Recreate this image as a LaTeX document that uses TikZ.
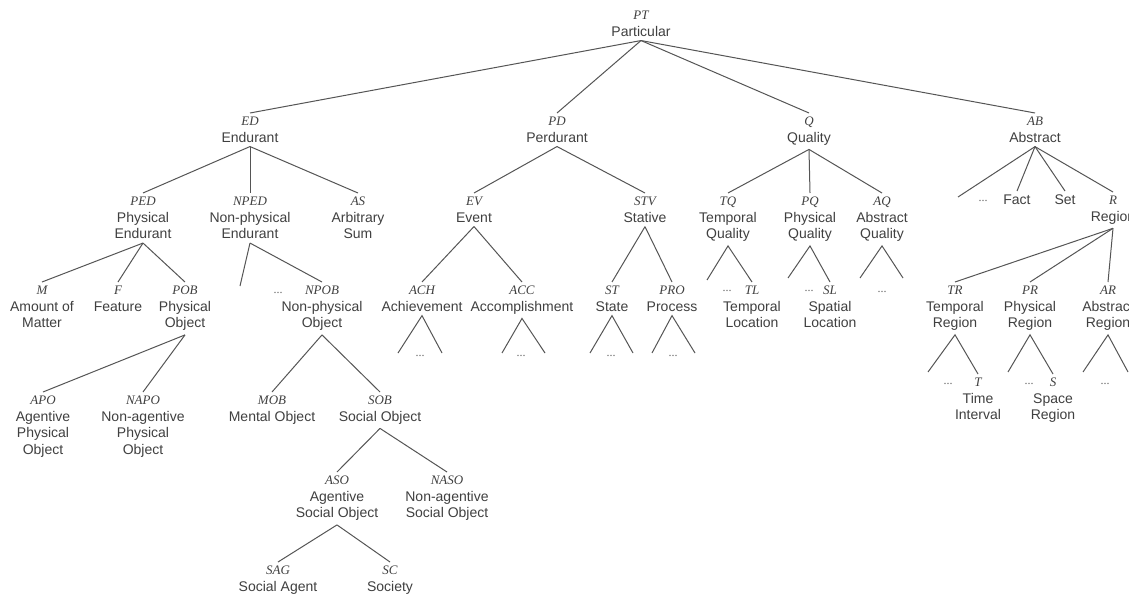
\documentclass[tikz,border=0pt]{standalone}
\usepackage{fontspec}
\setmainfont{Liberation Sans}
\newfontfamily\abbrfont{Liberation Serif}
\usepackage{tikz}
\definecolor{ink}{HTML}{404040}
\definecolor{wire}{HTML}{555555}
\newcommand{\ab}[1]{{\abbrfont\itshape\fontsize{13}{16}\selectfont #1}}
\tikzset{
  cat/.style={anchor=north, align=center, inner xsep=1pt, inner ysep=4pt, text=ink, font=\fontsize{14}{16.5}\selectfont},
  ellip/.style={text=ink!80, font=\abbrfont\fontsize{12}{14}\selectfont, inner sep=1pt},
  branch/.style={draw=wire, line width=1pt},
}

\begin{document}
\begin{tikzpicture}[x=1pt, y=-1pt]
\fill[white] (0,0) rectangle (1129,594);
\useasboundingbox (0,0) rectangle (1129,594);

\node[cat] (PT) at (641,7) {\ab{PT}\\Particular};

\node[cat] (ED) at (250,113) {\ab{ED}\\Endurant};
\node[cat] (PD) at (557,113) {\ab{PD}\\Perdurant};
\node[cat] (Q) at (809,113) {\ab{Q}\\Quality};
\node[cat] (AB) at (1035,113) {\ab{AB}\\Abstract};

\node[cat] (PED) at (143,193) {\ab{PED}\\Physical\\Endurant};
\node[cat] (NPED) at (250,193) {\ab{NPED}\\Non-physical\\Endurant};
\node[cat] (AS) at (358,193) {\ab{AS}\\Arbitrary\\Sum};
\node[cat] (EV) at (474,193) {\ab{EV}\\Event};
\node[cat] (STV) at (645,193) {\ab{STV}\\Stative};
\node[cat] (TQ) at (728,193) {\ab{TQ}\\Temporal\\Quality};
\node[cat] (PQ) at (810,193) {\ab{PQ}\\Physical\\Quality};
\node[cat] (AQ) at (882,193) {\ab{AQ}\\Abstract\\Quality};
\node[ellip] (abD) at (983,201) {...};
\node[cat] (Fact) at (1017,191) {Fact};
\node[cat] (Set) at (1065,191) {Set};
\node[cat] (R) at (1113,192) {\ab{R}\\Region};

\node[cat] (M) at (42,282) {\ab{M}\\Amount of\\Matter};
\node[cat] (F) at (118,282) {\ab{F}\\Feature};
\node[cat] (POB) at (185,282) {\ab{POB}\\Physical\\Object};
\node[ellip] (npedD) at (278,293) {...};
\node[cat] (NPOB) at (322,282) {\ab{NPOB}\\Non-physical\\Object};
\node[cat] (ACH) at (422,282) {\ab{ACH}\\Achievement};
\node[cat] (ACC) at (522,282) {\ab{ACC}\\Accomplishment};
\node[cat] (ST) at (612,282) {\ab{ST}\\State};
\node[cat] (PRO) at (672,282) {\ab{PRO}\\Process};
\node[ellip] (tqD) at (727,291) {...};
\node[cat] (TL) at (752,282) {\ab{TL}\\Temporal\\Location};
\node[ellip] (pqD) at (809,291) {...};
\node[cat] (SL) at (830,282) {\ab{SL}\\Spatial\\Location};
\node[ellip] (aqD) at (882,292) {...};
\node[cat] (TR) at (955,282) {\ab{TR}\\Temporal\\Region};
\node[cat] (PR) at (1030,282) {\ab{PR}\\Physical\\Region};
\node[cat] (AR) at (1108,282) {\ab{AR}\\Abstract\\Region};

\node[ellip] (achD) at (420,356) {...};
\node[ellip] (accD) at (521,356) {...};
\node[ellip] (stD) at (611,356) {...};
\node[ellip] (proD) at (673,356) {...};

\node[cat] (APO) at (43,392) {\ab{APO}\\Agentive\\Physical\\Object};
\node[cat] (NAPO) at (143,392) {\ab{NAPO}\\Non-agentive\\Physical\\Object};
\node[cat] (MOB) at (272,392) {\ab{MOB}\\Mental Object};
\node[cat] (SOB) at (380,392) {\ab{SOB}\\Social Object};
\node[ellip] (trD) at (948,384) {...};
\node[cat] (T) at (978,374) {\ab{T}\\Time\\Interval};
\node[ellip] (prD) at (1029,384) {...};
\node[cat] (S) at (1053,374) {\ab{S}\\Space\\Region};
\node[ellip] (arD) at (1105,384) {...};

\node[cat] (ASO) at (337,472) {\ab{ASO}\\Agentive\\Social Object};
\node[cat] (NASO) at (447,472) {\ab{NASO}\\Non-agentive\\Social Object};

\node[cat] (SAG) at (278,562) {\ab{SAG}\\Social Agent};
\node[cat] (SC) at (390,562) {\ab{SC}\\Society};

\coordinate (abL) at (958,197);
\coordinate (npedL) at (240,286);
\coordinate (tqL) at (707,280);
\coordinate (pqL) at (788,278);
\coordinate (aqL) at (860,278);
\coordinate (aqR) at (903,278);
\coordinate (achL) at (398,353);
\coordinate (achR) at (442,353);
\coordinate (accL) at (502,353);
\coordinate (accR) at (545,353);
\coordinate (stL) at (590,353);
\coordinate (stR) at (633,353);
\coordinate (proL) at (652,353);
\coordinate (proR) at (695,353);
\coordinate (trL) at (928,372);
\coordinate (prL) at (1008,372);
\coordinate (arL) at (1083,372);
\coordinate (arR) at (1128,372);

\draw[branch] (PT.south) -- (ED.north);
\draw[branch] (PT.south) -- (PD.north);
\draw[branch] (PT.south) -- (Q.north);
\draw[branch] (PT.south) -- (AB.north);

\draw[branch] (ED.south) -- (PED.north);
\draw[branch] (ED.south) -- (NPED.north);
\draw[branch] (ED.south) -- (AS.north);
\draw[branch] (PED.south) -- (M.north);
\draw[branch] (PED.south) -- (F.north);
\draw[branch] (PED.south) -- (POB.north);
\draw[branch] (NPED.south) -- (npedL);
\draw[branch] (NPED.south) -- (NPOB.north);
\draw[branch] (POB.south) -- (APO.north);
\draw[branch] (POB.south) -- (NAPO.north);
\draw[branch] (NPOB.south) -- (MOB.north);
\draw[branch] (NPOB.south) -- (SOB.north);
\draw[branch] (SOB.south) -- (ASO.north);
\draw[branch] (SOB.south) -- (NASO.north);
\draw[branch] (ASO.south) -- (SAG.north);
\draw[branch] (ASO.south) -- (SC.north);

\draw[branch] (PD.south) -- (EV.north);
\draw[branch] (PD.south) -- (STV.north);
\draw[branch] (EV.south) -- (ACH.north);
\draw[branch] (EV.south) -- (ACC.north);
\draw[branch] (STV.south) -- (ST.north);
\draw[branch] (STV.south) -- (PRO.north);
\draw[branch] (achL) -- (ACH.south) -- (achR);
\draw[branch] (accL) -- (ACC.south) -- (accR);
\draw[branch] (stL) -- (ST.south) -- (stR);
\draw[branch] (proL) -- (PRO.south) -- (proR);

\draw[branch] (Q.south) -- (TQ.north);
\draw[branch] (Q.south) -- (PQ.north);
\draw[branch] (Q.south) -- (AQ.north);
\draw[branch] (tqL) -- (TQ.south) -- (TL.north);
\draw[branch] (pqL) -- (PQ.south) -- (SL.north);
\draw[branch] (aqL) -- (AQ.south) -- (aqR);

\draw[branch] (AB.south) -- (abL);
\draw[branch] (AB.south) -- (Fact.north);
\draw[branch] (AB.south) -- (Set.north);
\draw[branch] (AB.south) -- (R.north);
\draw[branch] (R.south) -- (TR.north);
\draw[branch] (R.south) -- (PR.north);
\draw[branch] (R.south) -- (AR.north);
\draw[branch] (trL) -- (TR.south) -- (T.north);
\draw[branch] (prL) -- (PR.south) -- (S.north);
\draw[branch] (arL) -- (AR.south) -- (arR);
\end{tikzpicture}
\end{document}
